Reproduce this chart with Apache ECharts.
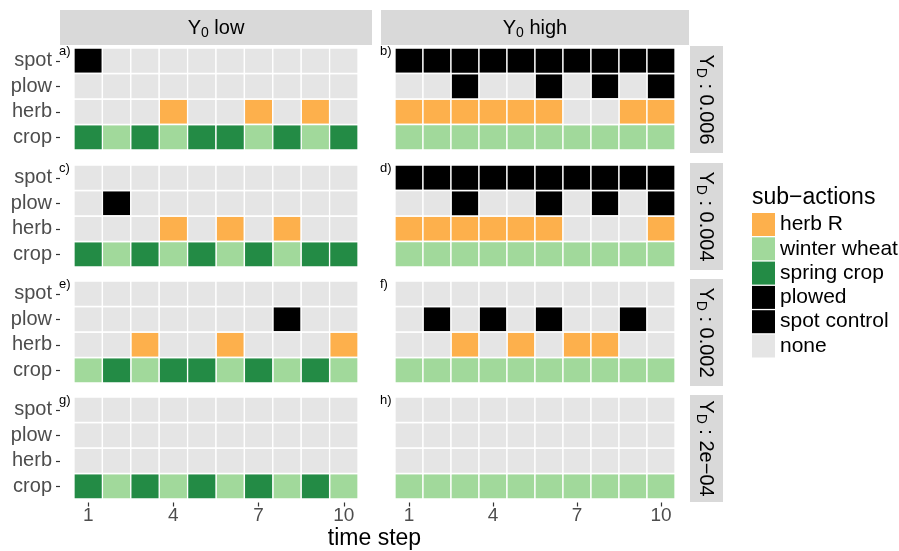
<!DOCTYPE html>
<html>
<head>
<meta charset="utf-8">
<script src="https://cdn.jsdelivr.net/npm/echarts@6/dist/echarts.min.js"></script>
<style>html,body{margin:0;padding:0;background:#fff}#c{width:899px;height:551px}</style>
</head>
<body>
<div id="c"></div>
<script>
// ---------- data ----------
const timeSteps = ['1','2','3','4','5','6','7','8','9','10'];
const subRows = ['crop','herb','plow','spot'];           // bottom -> top
const actionNames = ['herb R','winter wheat','spring crop','plowed','spot control','none'];
const actionColors = ['#FDB04C','#A1D99B','#238B45','#000000','#000000','#E5E5E5'];
const colLabels = ['low','high'];
const rowLabels = ['0.006','0.004','0.002','2e\u221204'];
const panelTags = ['a)','b)','c)','d)','e)','f)','g)','h)'];

// crop: S = spring crop, W = winter wheat ; others: 1 = action taken
const cropA = ['S','W','S','W','S','S','W','S','W','S'];
const herbA = [0,0,0,1,0,0,1,0,1,0];
const plowA = [0,0,0,0,0,0,0,0,0,0];
const spotA = [1,0,0,0,0,0,0,0,0,0];

const cropB = ['W','W','W','W','W','W','W','W','W','W'];
const herbB = [1,1,1,1,1,1,0,0,1,1];
const plowB = [0,0,1,0,0,1,0,1,0,1];
const spotB = [1,1,1,1,1,1,1,1,1,1];

const cropC = ['S','W','S','W','S','W','S','W','S','S'];
const herbC = [0,0,0,1,0,1,0,1,0,0];
const plowC = [0,1,0,0,0,0,0,0,0,0];
const spotC = [0,0,0,0,0,0,0,0,0,0];

const cropD = ['W','W','W','W','W','W','W','W','W','W'];
const herbD = [1,1,1,1,1,1,0,0,0,1];
const plowD = [0,0,1,0,0,1,0,1,0,1];
const spotD = [1,1,1,1,1,1,1,1,1,1];

const cropE = ['W','S','W','S','S','W','S','W','S','W'];
const herbE = [0,0,1,0,0,1,0,0,0,1];
const plowE = [0,0,0,0,0,0,0,1,0,0];
const spotE = [0,0,0,0,0,0,0,0,0,0];

const cropF = ['W','W','W','W','W','W','W','W','W','W'];
const herbF = [0,0,1,0,1,0,1,1,0,0];
const plowF = [0,1,0,1,0,1,0,0,1,0];
const spotF = [0,0,0,0,0,0,0,0,0,0];

const cropG = ['S','W','S','W','S','W','S','W','S','W'];
const herbG = [0,0,0,0,0,0,0,0,0,0];
const plowG = [0,0,0,0,0,0,0,0,0,0];
const spotG = [0,0,0,0,0,0,0,0,0,0];

const cropH = ['W','W','W','W','W','W','W','W','W','W'];
const herbH = [0,0,0,0,0,0,0,0,0,0];
const plowH = [0,0,0,0,0,0,0,0,0,0];
const spotH = [0,0,0,0,0,0,0,0,0,0];

const panels = [
  [cropA, herbA, plowA, spotA], [cropB, herbB, plowB, spotB],
  [cropC, herbC, plowC, spotC], [cropD, herbD, plowD, spotD],
  [cropE, herbE, plowE, spotE], [cropF, herbF, plowF, spotF],
  [cropG, herbG, plowG, spotG], [cropH, herbH, plowH, spotH]
];

// ---------- layout ----------
const FONT = 'Liberation Sans, Arial, sans-serif';
const gridLeft = [74, 395], gridWidth = [284, 280];
const gridTop = [48, 165, 281, 397], gridH = 102;
const panelLeft = [60, 381], panelWidth = [312, 308];

const grids = [], xAxes = [], yAxes = [], series = [], graphics = [];

const subRich = {
  m: {fontFamily: FONT, fontSize: 20, color: '#1A1A1A', lineHeight: 24, verticalAlign: 'middle'},
  s: {fontFamily: FONT, fontSize: 14, color: '#1A1A1A', lineHeight: 14, verticalAlign: 'bottom'}
};

panels.forEach((p, i) => {
  const r = Math.floor(i / 2), c = i % 2;
  grids.push({left: gridLeft[c], top: gridTop[r], width: gridWidth[c], height: gridH});
  const bottom = r === 3;
  xAxes.push({
    type: 'category', gridIndex: i, data: timeSteps, show: bottom, offset: 3.5,
    axisLine: {show: false},
    axisTick: {show: bottom, alignWithLabel: true, length: 4, interval: (idx) => idx % 3 === 0,
      lineStyle: {color: '#333', width: 1.2}},
    axisLabel: {show: bottom, interval: (idx) => idx % 3 === 0, margin: 4,
      fontFamily: FONT, fontSize: 19, color: '#4D4D4D'},
    splitLine: {show: false}
  });
  const left = c === 0;
  yAxes.push({
    type: 'category', gridIndex: i, data: subRows, show: left, offset: 14,
    axisLine: {show: false},
    axisTick: {show: left, alignWithLabel: true, interval: 0, length: 4, lineStyle: {color: '#333', width: 1.2}},
    axisLabel: {show: left, interval: 0, hideOverlap: false, margin: 8, fontFamily: FONT, fontSize: 20, color: '#4D4D4D'},
    splitLine: {show: false}
  });
  // build cells by action
  const byAction = actionNames.map(() => []);
  const [crop, herb, plow, spot] = p;
  for (let t = 0; t < timeSteps.length; t++) {
    byAction[crop[t] === 'S' ? 2 : 1].push([t, 0]);
    byAction[herb[t] ? 0 : 5].push([t, 1]);
    byAction[plow[t] ? 3 : 5].push([t, 2]);
    byAction[spot[t] ? 4 : 5].push([t, 3]);
  }
  actionNames.forEach((name, k) => {
    series.push({
      type: 'custom', name: name, xAxisIndex: i, yAxisIndex: i,
      itemStyle: {color: actionColors[k]},
      encode: {x: 0, y: 1},
      data: byAction[k],
      silent: true,
      renderItem: function (params, api) {
        const ctr = api.coord([api.value(0), api.value(1)]);
        const sz = api.size([1, 1]);
        return {
          type: 'rect',
          shape: {x: ctr[0] - sz[0] / 2, y: ctr[1] - sz[1] / 2, width: sz[0], height: sz[1]},
          style: {fill: api.visual('color'), stroke: '#fff', lineWidth: 1.3}
        };
      }
    });
  });
  // panel tag
  graphics.push({type: 'text', left: panelLeft[c] - 1, top: gridTop[r] - 3,
    style: {text: panelTags[i], font: '13px ' + FONT, fill: '#000'}});
});

// top strips
colLabels.forEach((lab, c) => {
  graphics.push({type: 'rect', shape: {x: panelLeft[c], y: 10, width: panelWidth[c], height: 35},
    style: {fill: '#D9D9D9'}});
  graphics.push({type: 'text', x: panelLeft[c] + panelWidth[c] / 2, y: 28,
    style: {text: '{m|Y}{s|0}{m| ' + lab + '}', align: 'center', verticalAlign: 'middle', rich: subRich}});
});
// right strips
rowLabels.forEach((lab, r) => {
  const y0 = gridTop[r] - 2, h = gridH + 5;
  graphics.push({type: 'rect', shape: {x: 690, y: y0, width: 33, height: h}, style: {fill: '#D9D9D9'}});
  graphics.push({type: 'text', x: 706, y: y0 + h / 2, rotation: -Math.PI / 2,
    style: {text: '{m|Y}{s|D}{m| : ' + lab + '}', align: 'center', verticalAlign: 'middle', rich: subRich}});
});
// axis title and legend title
graphics.push({type: 'text', x: 374.5, y: 527,
  style: {text: 'time step', font: '23px ' + FONT, fill: '#000', align: 'center', verticalAlign: 'top'}});
graphics.push({type: 'text', x: 752, y: 186,
  style: {text: 'sub\u2212actions', font: '23px ' + FONT, fill: '#000', align: 'left', verticalAlign: 'top'}});

const chart = echarts.init(document.getElementById('c'), null, {renderer: 'canvas'});
chart.setOption({
  animation: false,
  backgroundColor: '#fff',
  grid: grids,
  xAxis: xAxes,
  yAxis: yAxes,
  legend: {
    data: actionNames, orient: 'vertical', left: 752, top: 213, padding: 0,
    icon: 'rect', itemWidth: 23, itemHeight: 23, itemGap: 1.3, selectedMode: false,
    textStyle: {fontFamily: FONT, fontSize: 21, color: '#000'}
  },
  series: series,
  graphic: graphics
});
</script>
</body>
</html>
